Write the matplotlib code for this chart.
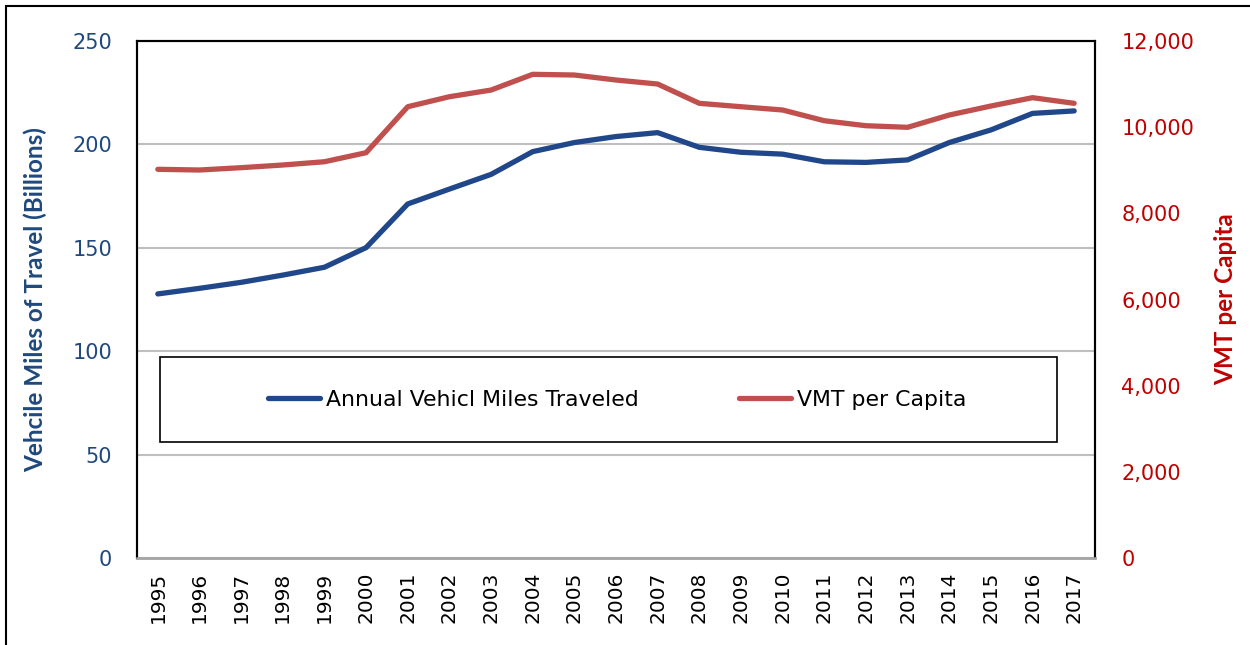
import numpy as np
import matplotlib
matplotlib.use("Agg")
import matplotlib.pyplot as plt
from matplotlib.patches import Rectangle
from matplotlib.ticker import FuncFormatter

# data
years = [str(y) for y in range(1995, 2018)]
vmt_billions = [127.7, 130.4, 133.3, 136.8, 140.6, 150.1, 171.2, 178.4, 185.5, 196.5,
                200.9, 203.8, 205.7, 198.6, 196.2, 195.3, 191.6, 191.3, 192.5, 200.9,
                207.0, 215.0, 216.2]
vmt_per_capita = [9022, 9006, 9060, 9122, 9198, 9408, 10475, 10707, 10862, 11227,
                  11211, 11095, 11002, 10554, 10475, 10399, 10150, 10034, 9997, 10282,
                  10491, 10685, 10554]

blue = "#1F4789"
red = "#C0504D"
blue_txt = "#1F497D"
red_txt = "#C00000"

fig = plt.figure(figsize=(12.5, 6.45), dpi=100)
ax = fig.add_axes([0.1096, 0.1349, 0.7664, 0.8015])
ax2 = ax.twinx()

x = np.arange(len(years))
l1, = ax.plot(x, vmt_billions, color=blue, lw=3.8, solid_capstyle="round",
              solid_joinstyle="round", label="Annual Vehicl Miles Traveled", zorder=3)
l2, = ax2.plot(x, vmt_per_capita, color=red, lw=3.8, solid_capstyle="round",
               solid_joinstyle="round", label="VMT per Capita", zorder=3)

ax.set_xlim(-0.5, len(years) - 0.5)
ax.set_ylim(0, 250)
ax2.set_ylim(0, 12000)
ax.set_yticks(range(0, 251, 50))
ax2.set_yticks(range(0, 12001, 2000))
ax2.yaxis.set_major_formatter(FuncFormatter(lambda v, p: f"{int(v):,}"))
ax.set_xticks(x)
ax.set_xticklabels(years, rotation=90, fontsize=14.5)

ax.grid(axis="y", color="#BFBFBF", lw=1.5)
ax.set_axisbelow(True)
ax.tick_params(axis="both", length=0)
ax2.tick_params(axis="both", length=0)
ax.tick_params(axis="y", labelsize=15, labelcolor=blue_txt, pad=18)
ax.tick_params(axis="x", pad=10)
ax2.tick_params(axis="y", labelsize=15, labelcolor=red_txt, pad=19)

for a in (ax, ax2):
    for s in ("left", "top", "right"):
        a.spines[s].set_color("black")
        a.spines[s].set_linewidth(1.5)
    a.spines["bottom"].set_color("#A6A6A6")
    a.spines["bottom"].set_linewidth(1.8)

ax.set_ylabel("Vehcile Miles of Travel (Billions)", fontsize=17.5, fontweight="bold",
              color=blue_txt, family="Lato", labelpad=18)
ax2.set_ylabel("VMT per Capita", fontsize=17.5, fontweight="bold",
               color=red_txt, family="Lato", labelpad=14)

# legend box
ax2.add_patch(Rectangle((0.024, 0.224), 0.936, 0.164, transform=ax.transAxes,
                        facecolor="white", edgecolor="black", lw=1.2, zorder=4))
leg = ax2.legend(handles=[l1, l2], loc="center", bbox_to_anchor=(0.501, 0.306),
                 ncol=2, frameon=False, fontsize=15.8, handlelength=2.4,
                 columnspacing=4.55, handletextpad=0.25)
leg.set_zorder(5)
for t in leg.get_texts():
    t.set_family("DejaVu Sans")

# outer border of the picture
fig.add_artist(Rectangle((6 / 1250, -0.1), 1.2, 1 - 6 / 645 + 0.1,
                         transform=fig.transFigure, fill=False,
                         edgecolor="black", lw=1.5))

fig.savefig("out.png", dpi=100)
